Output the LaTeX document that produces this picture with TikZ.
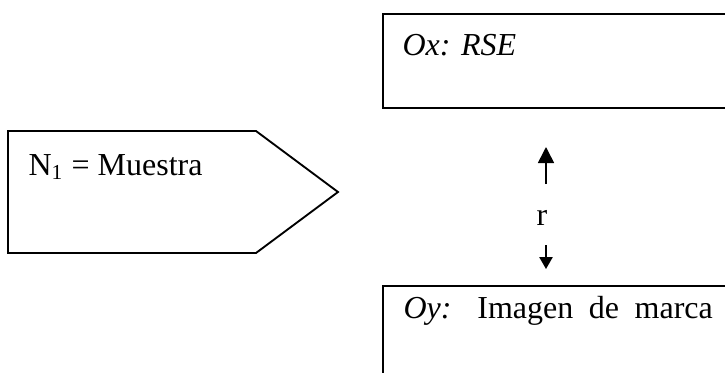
\documentclass[tikz,border=0pt]{standalone}
\usepackage{fontspec}
\setmainfont{Liberation Serif}
\usetikzlibrary{arrows.meta,positioning}
\tikzset{
  framebox/.style={draw=black,line width=0.7pt,inner sep=0pt},
  boxtext/.style={anchor=base west,inner sep=0pt,font=\fontsize{12}{14}\selectfont},
  upline/.style={-{Triangle[length=6pt,width=6pt]},line width=0.6pt},
  downline/.style={-{Triangle[length=4.5pt,width=5pt]},line width=0.6pt}
}

\begin{document}
\begin{tikzpicture}[x=0.375pt,y=-0.375pt]
  \useasboundingbox (0,0) rectangle (725,372);
  \clip (0,0) rectangle (725,372);
  % sample
  \draw[framebox] (8,131) -- (256,131) -- (338,192) -- (256,253) -- (8,253) -- cycle;
  \node[boxtext] (muestra) at (28,175) {N\textsubscript{1} = Muestra};
  % variables
  \node[framebox,line width=0.9pt,anchor=north west,minimum width=150pt,minimum height=35.25pt] (ox) at (382,13) {};
  \node[boxtext] (oxtext) at (402,55) {\textit{Ox: RSE}};
  \node[framebox,anchor=north west,minimum width=150pt,minimum height=45pt] (oy) at (382,285) {};
  \node[boxtext] (oytext) at (403,318) {\makebox[116pt][s]{\textit{Oy:} Imagen de marca}};
  % relation
  \coordinate (upfoot) at (546,184);
  \coordinate (uptip) at (546,147);
  \coordinate (downfoot) at (546,245);
  \coordinate (downtip) at (546,269);
  \draw[upline] (upfoot) -- (uptip);
  \draw[downline] (downfoot) -- (downtip);
  \node[font=\fontsize{12}{14}\selectfont,inner sep=0pt,anchor=base] (r) at (542,225) {r};
\end{tikzpicture}
\end{document}
